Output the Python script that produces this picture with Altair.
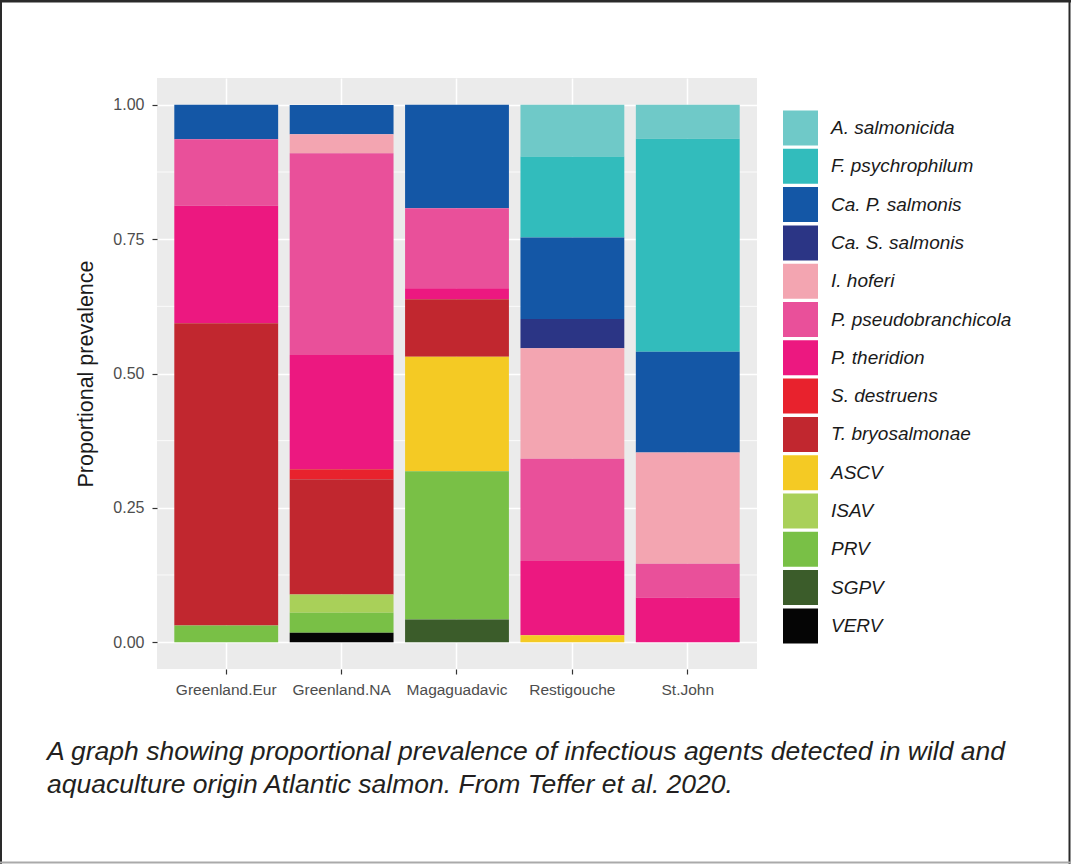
import altair as alt
import pandas as pd

sites = ["Greenland.Eur", "Greenland.NA", "Magaguadavic", "Restigouche", "St.John"]
agents = ["A. salmonicida", "F. psychrophilum", "Ca. P. salmonis", "Ca. S. salmonis",
          "I. hoferi", "P. pseudobranchicola", "P. theridion", "S. destruens",
          "T. bryosalmonae", "ASCV", "ISAV", "PRV", "SGPV", "VERV"]
colors = ["#6FC9C8", "#32BCBC", "#1457A6", "#2B3585", "#F3A5B1", "#E9509A", "#EC1880",
          "#E8222D", "#C1272F", "#F4CA24", "#A9D059", "#79C046", "#3B5C2A", "#050505"]

# values per site, in the order of `agents`
greenland_eur = [0, 0, 0.064, 0, 0, 0.124, 0.2185, 0, 0.5625, 0, 0, 0.031, 0, 0]
greenland_na = [0, 0, 0.0546, 0, 0.035, 0.3755, 0.213, 0.0186, 0.2142, 0, 0.0342, 0.0372, 0, 0.0174]
magaguadavic = [0, 0, 0.1924, 0, 0, 0.149, 0.0206, 0, 0.107, 0.213, 0, 0.2758, 0.0422, 0]
restigouche = [0.0962, 0.1508, 0.1515, 0.0545, 0.2056, 0.1906, 0.1378, 0, 0, 0.013, 0, 0, 0, 0]
st_john = [0.0633, 0.3961, 0.1876, 0, 0.2071, 0.0627, 0.0832, 0, 0, 0, 0, 0, 0, 0]

y_ticks = [0, 0.25, 0.5, 0.75, 1.0]
y_minor = [0.125, 0.375, 0.625, 0.875]

caption_lines = [
    "A graph showing proportional prevalence of infectious agents detected in wild and",
    "aquaculture origin Atlantic salmon. From Teffer et al. 2020.",
]

rows = []
for site, vals in zip(sites, [greenland_eur, greenland_na, magaguadavic, restigouche, st_john]):
    for i, (a, v) in enumerate(zip(agents, vals)):
        if v > 0:
            rows.append({"site": site, "agent": a, "value": v, "ord": len(agents) - i})
df = pd.DataFrame(rows)

W, H = 600, 591
PL, PT, PR, PB = 157, 78, 1071 - 757, 864 - 669
FONT = "Liberation Sans"

x_scale = alt.Scale(domain=sites, paddingInner=0.1, paddingOuter=0.15)
y_scale = alt.Scale(domain=[-0.05, 1.05], nice=False, zero=False)
y_axis = alt.Axis(title="Proportional prevalence", values=y_ticks, format=".2f",
                  labelFontSize=16, labelColor="#4D4D4D", labelFont=FONT,
                  tickSize=5, tickColor="#333333", tickWidth=1.2, labelPadding=8,
                  domain=False, grid=True, gridColor="white", gridWidth=1.5,
                  titleFont=FONT, titleFontSize=21.5, titleFontWeight="normal",
                  titleColor="#1A1A1A", titlePadding=15)

minor = alt.Chart(pd.DataFrame({"m": y_minor})).mark_rule(color="white", strokeWidth=0.8).encode(
    y=alt.Y("m:Q", scale=y_scale, axis=y_axis, title="Proportional prevalence"),
    x=alt.value(0), x2=alt.value(W),
)

bars = alt.Chart(df).mark_bar().encode(
    x=alt.X("site:N", scale=x_scale, sort=sites,
            axis=alt.Axis(title=None, labelAngle=0, labelFontSize=15.5, labelColor="#4D4D4D",
                          labelFont=FONT, tickSize=5, tickColor="#333333", tickWidth=1.2,
                          labelPadding=8, domain=False, grid=True, gridColor="white",
                          gridWidth=1.5)),
    y=alt.Y("value:Q", stack="zero", scale=y_scale, axis=y_axis,
            title="Proportional prevalence"),
    color=alt.Color("agent:N", scale=alt.Scale(domain=agents, range=colors),
                    legend=alt.Legend(title=None, orient="none", legendX=626, legendY=32.5,
                                      padding=0, symbolType="square", symbolSize=1225,
                                      symbolStrokeWidth=0, symbolOpacity=1,
                                      rowPadding=3.3, labelOffset=13,
                                      labelFont=FONT, labelFontSize=19,
                                      labelFontStyle="italic", labelColor="#1A1A1A",
                                      labelLimit=300)),
    order=alt.Order("ord:Q", sort="ascending"),
)

frame_df = pd.DataFrame({"a": [0]})
top = alt.Chart(frame_df).mark_rule(color="#2A2A2A", strokeWidth=3).encode(
    x=alt.value(-PL), x2=alt.value(W + PR), y=alt.value(-PT + 1))
left = alt.Chart(frame_df).mark_rule(color="#2A2A2A", strokeWidth=2).encode(
    x=alt.value(-PL + 1), y=alt.value(-PT), y2=alt.value(H + PB))
right = alt.Chart(frame_df).mark_rule(color="#2A2A2A", strokeWidth=2).encode(
    x=alt.value(W + PR - 1.5), y=alt.value(-PT), y2=alt.value(H + PB))
bottom = alt.Chart(frame_df).mark_rule(color="#AAAAAA", strokeWidth=2).encode(
    x=alt.value(-PL), x2=alt.value(W + PR), y=alt.value(H + PB - 1.5))

cap_df = pd.DataFrame({"t": caption_lines, "line": [0, 1]})
caption = alt.Chart(cap_df).mark_text(
    align="left", baseline="alphabetic", font=FONT, fontStyle="italic",
    fontSize=26.5, color="#231F20",
).encode(
    text="t:N",
    x=alt.value(47 - PL),
    y=alt.value(760 - PT),
).transform_filter("datum.line == 0")
caption2 = alt.Chart(cap_df).mark_text(
    align="left", baseline="alphabetic", font=FONT, fontStyle="italic",
    fontSize=26.5, color="#231F20",
).encode(
    text="t:N",
    x=alt.value(47 - PL),
    y=alt.value(793 - PT),
).transform_filter("datum.line == 1")

chart = alt.layer(minor, bars, top, left, right, bottom, caption, caption2).resolve_scale(
    y="shared"
).properties(
    width=W, height=H,
    autosize=alt.AutoSizeParams(type="none"),
    padding={"left": PL, "top": PT, "right": PR, "bottom": PB},
    background="white",
).configure_view(fill="#EBEBEB", stroke=None)

chart.save("out.html", embed_options={"renderer": "svg", "actions": False})
